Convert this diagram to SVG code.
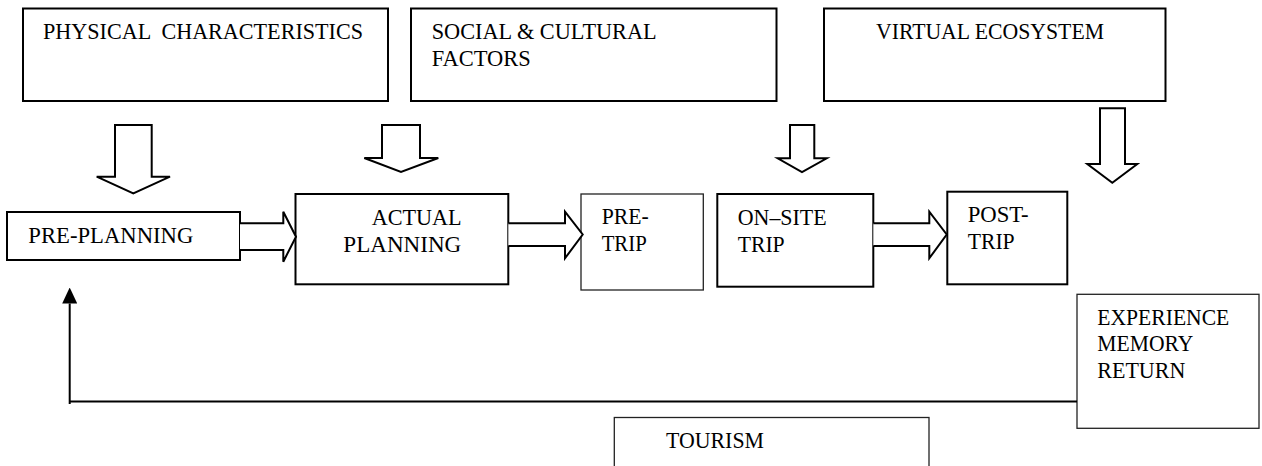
<svg xmlns="http://www.w3.org/2000/svg" width="1262" height="466" viewBox="0 0 1262 466">
<defs>
<style>
.box{fill:#fff;stroke:#000;stroke-width:2}
.thin{fill:#fff;stroke:#222;stroke-width:1.3}
.blk{fill:#fff;stroke:#000;stroke-width:2;stroke-linejoin:miter}
.line{fill:none;stroke:#000;stroke-width:2}
.t{font-family:"Liberation Serif","Times New Roman",serif;font-size:23px;fill:#000;white-space:pre}
</style>
<marker id="ah" markerWidth="16" markerHeight="15" refX="0" refY="7.5" orient="auto" markerUnits="userSpaceOnUse" viewBox="0 0 16 15">
<path d="M0,0 L16,7.5 L0,15 Z" fill="#000"/>
</marker>
</defs>
<rect width="1262" height="466" fill="#fff"/>

<g id="physical">
<rect class="box" x="23" y="8.5" width="365" height="92.5"/>
<text class="t" x="43" y="39" textLength="320" lengthAdjust="spacingAndGlyphs" xml:space="preserve">PHYSICAL  CHARACTERISTICS</text>
</g>
<g id="social">
<rect class="box" x="411" y="8.5" width="365.5" height="92.5"/>
<text class="t" x="431.7" y="39" textLength="225" lengthAdjust="spacingAndGlyphs">SOCIAL &amp; CULTURAL</text>
<text class="t" x="431.7" y="66" textLength="99" lengthAdjust="spacingAndGlyphs">FACTORS</text>
</g>
<g id="virtual">
<rect class="box" x="824" y="8.5" width="341.5" height="92.5"/>
<text class="t" x="876" y="39.3" textLength="228" lengthAdjust="spacingAndGlyphs">VIRTUAL ECOSYSTEM</text>
</g>

<g id="pre-planning">
<rect class="box" x="7" y="212" width="233" height="48"/>
<text class="t" x="28.3" y="243.3" textLength="165" lengthAdjust="spacingAndGlyphs">PRE-PLANNING</text>
</g>
<g id="actual-planning">
<rect class="box" x="295.5" y="194" width="212.8" height="90.3"/>
<text class="t" x="371.7" y="225" textLength="90" lengthAdjust="spacingAndGlyphs">ACTUAL</text>
<text class="t" x="343.3" y="251.7" textLength="118" lengthAdjust="spacingAndGlyphs">PLANNING</text>
</g>
<g id="pre-trip">
<rect class="thin" x="581" y="194" width="122.3" height="96"/>
<text class="t" x="601.7" y="224.3" textLength="47" lengthAdjust="spacingAndGlyphs">PRE-</text>
<text class="t" x="601.7" y="251" textLength="45" lengthAdjust="spacingAndGlyphs">TRIP</text>
</g>
<g id="on-site-trip">
<rect class="box" x="717.3" y="194" width="156" height="92.7"/>
<text class="t" x="737.7" y="225" textLength="89" lengthAdjust="spacingAndGlyphs">ON–SITE</text>
<text class="t" x="737.7" y="251.7" textLength="47" lengthAdjust="spacingAndGlyphs">TRIP</text>
</g>
<g id="post-trip">
<rect class="box" x="947.3" y="191.7" width="120" height="92.6"/>
<text class="t" x="967.7" y="222.3" textLength="61" lengthAdjust="spacingAndGlyphs">POST-</text>
<text class="t" x="967.7" y="249.3" textLength="47" lengthAdjust="spacingAndGlyphs">TRIP</text>
</g>
<g id="experience">
<rect class="thin" x="1077" y="294.3" width="182" height="134"/>
<text class="t" x="1097.3" y="325" textLength="132" lengthAdjust="spacingAndGlyphs">EXPERIENCE</text>
<text class="t" x="1097.3" y="350.7" textLength="96" lengthAdjust="spacingAndGlyphs">MEMORY</text>
<text class="t" x="1097.3" y="378.3" textLength="88" lengthAdjust="spacingAndGlyphs">RETURN</text>
</g>
<g id="tourism">
<rect class="thin" x="614.3" y="417.5" width="314.7" height="60"/>
<text class="t" x="666" y="447.7" textLength="98" lengthAdjust="spacingAndGlyphs">TOURISM</text>
</g>

<g id="connectors">
<path class="blk" d="M115,125 H151.7 V176.7 H170 L133.3,193.3 L96.7,176.7 H115 Z"/>
<path class="blk" d="M382,125 H420 V158 H438.3 L401,172 L364.3,158 H382 Z"/>
<path class="blk" d="M790,125 H814.3 V158.3 H826.7 L802,172 L777.7,158.3 H790 Z"/>
<path class="blk" d="M1100,108.3 H1125 V164 H1137.3 L1112.3,182.7 L1087.3,164 H1100 Z"/>
<path class="blk" d="M240,223.3 H283.3 V211.7 L296,236.7 L283.3,261.7 V250 H240"/>
<path class="blk" d="M508.3,223.3 H565 V211.7 L582.7,234.5 L565,258.3 V246 H508.3"/>
<path class="blk" d="M873.3,223.3 H929.3 V211.7 L946.7,234.5 L929.3,258.3 V246 H873.3"/>
<path class="line" d="M1077,401.5 H69.7"/>
<path class="line" d="M69.7,404 V303.5" marker-end="url(#ah)"/>
</g>
</svg>
